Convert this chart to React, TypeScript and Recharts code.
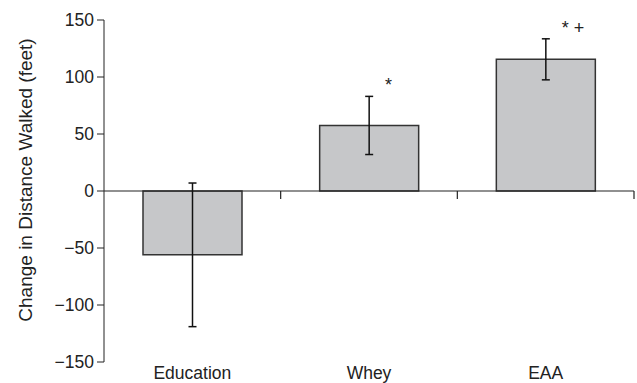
import React from 'react';
import { ComposedChart, Bar, XAxis, YAxis, ErrorBar, ReferenceLine, Scatter } from 'recharts';

const groups = ['Education', 'Whey', 'EAA'];
const positions = [0.5, 1.5, 2.5];
const changes = [-56, 57.5, 115.5];
const errors = [63, 25.5, 18];
const marks = ['', '*', '* +'];
const yTicks = [-150, -100, -50, 0, 50, 100, 150];
const boundaries = [1, 2, 3];

const data = groups.map((name, i) => ({
    name,
    pos: positions[i],
    change: changes[i],
    err: errors[i],
    top: changes[i] + errors[i],
    mark: marks[i],
}));

const font = 'Liberation Sans, Arial, Helvetica, sans-serif';

const MarkShape = (props: any) => {
    const { cx, cy, payload } = props;
    if (!payload.mark) return <g />;
    return (
        <text x={cx + 16} y={cy - 5} fontSize={18} fontFamily={font} fill="#222">
            {payload.mark}
        </text>
    );
};

export default function App() {
    return (
        <div style={{ position: 'absolute', left: 0, top: 0, width: 637, height: 383, background: '#fff' }}>
            <ComposedChart width={637} height={383} data={data} margin={{ top: 20, right: 3, bottom: 0, left: 0 }}>
                <XAxis
                    dataKey="pos"
                    type="number"
                    domain={[0, 3]}
                    ticks={positions}
                    allowDataOverflow
                    interval={0}
                    axisLine={false}
                    tickLine={false}
                    height={21}
                    tick={{ fontSize: 17.5, fill: '#222', fontFamily: font }}
                    tickMargin={-1}
                    tickFormatter={(v: number) => groups[positions.indexOf(v)] ?? ''}
                />
                <YAxis
                    domain={[-150, 150]}
                    ticks={yTicks}
                    width={104}
                    interval={0}
                    allowDataOverflow
                    stroke="#222"
                    tickSize={7}
                    tickMargin={3}
                    tick={{ fontSize: 17.5, fill: '#222', fontFamily: font }}
                    tickFormatter={(v: number) => (v < 0 ? '\u2212' + Math.abs(v) : String(v))}
                    label={{
                        content: () => (
                            <text
                                x={25}
                                y={180}
                                transform="rotate(-90 25 180)"
                                textAnchor="middle"
                                dominantBaseline="central"
                                fontSize={19}
                                fontFamily={font}
                                fill="#222"
                            >
                                Change in Distance Walked (feet)
                            </text>
                        ),
                    }}
                />
                <ReferenceLine y={0} stroke="#222" strokeWidth={1.2} />
                {boundaries.map((b) => (
                    <ReferenceLine
                        key={b}
                        segment={[{ x: b, y: 0 }, { x: b, y: -7 }]}
                        stroke="#222"
                        strokeWidth={1.2}
                    />
                ))}
                <Bar dataKey="change" barSize={99} fill="#c6c7c9" stroke="#333" strokeWidth={1.5} isAnimationActive={false}>
                    <ErrorBar dataKey="err" width={4} stroke="#111" strokeWidth={1.5} />
                </Bar>
                <Scatter dataKey="top" shape={<MarkShape />} isAnimationActive={false} />
            </ComposedChart>
        </div>
    );
}
